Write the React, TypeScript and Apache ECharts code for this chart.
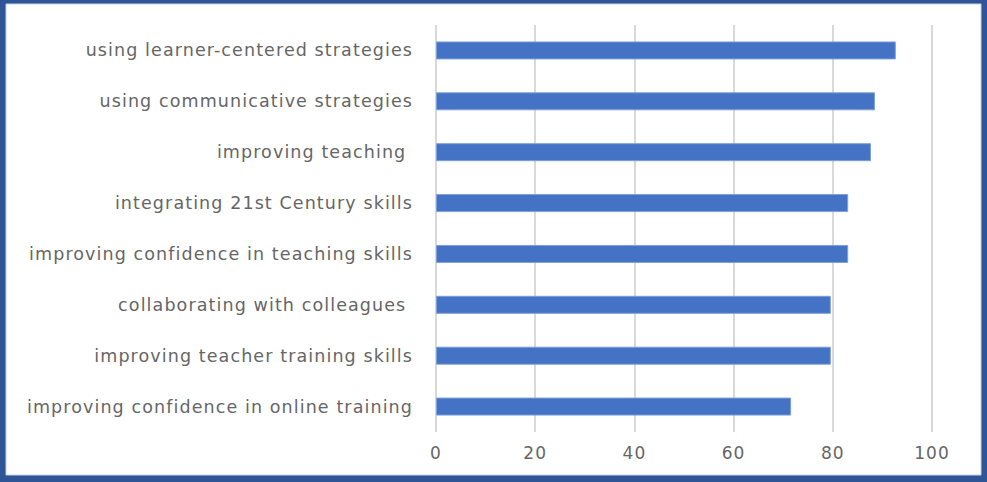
import React, { useEffect, useRef } from "react";
import * as echarts from "echarts";

const categories = [
  "using learner-centered strategies",
  "using communicative strategies",
  "improving teaching ",
  "integrating 21st Century skills",
  "improving confidence in teaching skills",
  "collaborating with colleagues ",
  "improving teacher training skills",
  "improving confidence in online training",
];
const values = [92.7, 88.5, 87.7, 83.1, 83.1, 79.6, 79.6, 71.6];
const xTicks = [0, 20, 40, 60, 80, 100];

export default function App() {
  const ref = useRef<HTMLDivElement>(null);
  useEffect(() => {
    document.body.style.margin = "0";
    const chart = echarts.init(ref.current!, null, { renderer: "svg" });
    chart.setOption({
      animation: false,
      backgroundColor: "#ffffff",
      graphic: [
        {
          type: "rect",
          z: -10,
          silent: true,
          shape: { x: 0, y: 0, width: 987, height: 482 },
          style: { fill: "#2F5597" },
        },
        {
          type: "rect",
          z: -9,
          silent: true,
          shape: { x: 6, y: 4, width: 975, height: 471 },
          style: { fill: "#ffffff", stroke: "#c7d2e6", lineWidth: 1 },
        },
      ],
      grid: { left: 436, right: 55, top: 25, bottom: 50, containLabel: false },
      xAxis: {
        type: "value",
        min: xTicks[0],
        max: xTicks[xTicks.length - 1],
        interval: 20,
        axisLine: { show: false },
        axisTick: { show: false },
        splitLine: { show: true, lineStyle: { color: "#d9d9d9", width: 2 } },
        axisLabel: {
          color: "#666666",
          fontFamily: "DejaVu Sans",
          fontSize: 17,
          margin: 12,
        },
      },
      yAxis: {
        type: "category",
        inverse: true,
        data: categories,
        axisLine: { show: false },
        axisTick: { show: false },
        axisLabel: {
          color: "#666666",
          fontFamily: "DejaVu Sans",
          fontSize: 17.5,
          margin: 23,
        },
      },
      series: [
        {
          type: "bar",
          data: values,
          barWidth: 18,
          itemStyle: { color: "#4472C4", borderColor: "#7f9fd8", borderWidth: 1 },
        },
      ],
    });
    const texts = ref.current!.querySelectorAll("text");
    texts.forEach((t) => {
      (t as SVGTextElement).style.letterSpacing = "1.1px";
    });
    return () => chart.dispose();
  }, []);
  return (
    <div
      ref={ref}
      style={{ position: "absolute", left: 0, top: 0, width: 987, height: 482 }}
    />
  );
}
